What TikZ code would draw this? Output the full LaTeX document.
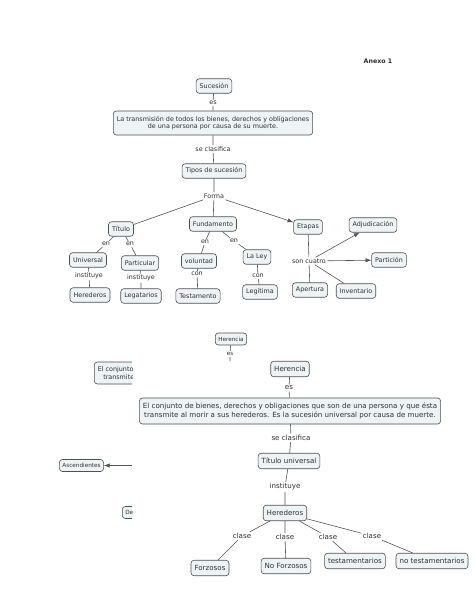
\documentclass[tikz,border=0pt]{standalone}
\usepackage{fontspec}
\setmainfont{DejaVu Sans}
\usetikzlibrary{arrows.meta}
\definecolor{boxfill}{HTML}{EEF3F6}
\definecolor{boxline}{HTML}{505050}
\definecolor{txt}{HTML}{303030}
\definecolor{wire}{HTML}{555555}

\begin{document}
\begin{tikzpicture}[x=1pt,y=-1pt,>=Latex,
  concept/.style={draw=boxline,fill=boxfill,rounded corners=3pt,line width=0.6pt,
    text=txt,font=\fontsize{6.4}{7.6}\selectfont,inner xsep=3.5pt,inner ysep=2pt,
    minimum height=14.5pt,align=center},
  bigconcept/.style={concept,font=\fontsize{7.1}{8.4}\selectfont,minimum height=15.5pt},
  tinyconcept/.style={concept,font=\fontsize{5.7}{6.8}\selectfont,minimum height=12pt,inner xsep=3pt},
  link/.style={text=txt,font=\fontsize{6.4}{7.4}\selectfont,inner sep=1.2pt},
  biglink/.style={link,font=\fontsize{7.1}{8}\selectfont},
  wire/.style={draw=wire,line width=0.6pt}]
\fill[white] (0,0) rectangle (474,613);
\useasboundingbox (0,0) rectangle (474,613);
\node[font=\bfseries\fontsize{6.3}{7}\selectfont,text=txt] (anexo) at (378,61) {Anexo 1};
% sucesion
\node[concept] (sucesion) at (214,86) {Sucesión};
\node[link] (es1) at (213,103) {es};
\node[concept,minimum height=24pt] (transm) at (213,123)
  {La transmisión de todos los bienes, derechos y obligaciones\\de una persona por causa de su muerte.};
\node[link] (clas1) at (213,149) {se clasifica};
\node[concept] (tipos) at (214,171) {Tipos de sucesión};
\node[link] (forma) at (214,196) {Forma};
\draw[wire] (sucesion) -- (es1) -- (transm) -- (clas1) -- (tipos) -- (forma);
% ramas
\node[concept] (titulo) at (121,229) {Título};
\node[concept] (fundamento) at (213,224) {Fundamento};
\node[concept] (etapas) at (308,227) {Etapas};
\draw[wire] (forma) -- (titulo);
\draw[wire] (forma) -- (fundamento);
\draw[wire,->] (forma) -- (etapas);
% titulo
\node[link] (en1) at (106,244) {en};
\node[link] (en2) at (130,244) {en};
\node[concept] (universal) at (88,260) {Universal};
\node[concept] (particular) at (140,263) {Particular};
\node[link] (inst1) at (89,276) {instituye};
\node[link] (inst2) at (141,278) {instituye};
\node[concept] (hered1) at (90,295) {Herederos};
\node[concept] (legat) at (141,296) {Legatarios};
\draw[wire] (titulo) -- (en1) -- (universal) -- (inst1) -- (hered1);
\draw[wire] (titulo) -- (en2) -- (particular) -- (inst2) -- (legat);
% fundamento
\node[link] (en3) at (205,242) {en};
\node[link] (en4) at (234,241) {en};
\node[concept] (voluntad) at (199,261) {voluntad};
\node[concept] (ley) at (257,257) {La Ley};
\node[link] (con1) at (197,274) {con};
\node[link] (con2) at (258,276) {con};
\node[concept] (testam) at (198,296) {Testamento};
\node[concept] (legitima) at (260,292) {Legítima};
\draw[wire] (fundamento) -- (en3) -- (voluntad) -- (con1) -- (testam);
\draw[wire] (fundamento) -- (en4) -- (ley) -- (con2) -- (legitima);
% etapas
\node[link] (cuatro) at (309,261) {son cuatro};
\node[concept] (adjud) at (373,225) {Adjudicación};
\node[concept] (particion) at (389,260) {Partición};
\node[concept] (apertura) at (310,290) {Apertura};
\node[concept] (invent) at (356,291) {Inventario};
\draw[wire] (etapas) -- (cuatro);
\draw[wire,->] (cuatro) -- (adjud);
\draw[wire,->] (cuatro) -- (particion);
\draw[wire] (cuatro) -- (apertura);
\draw[wire] (cuatro) -- (invent);
% herencia (copia)
\node[tinyconcept] (herencia0) at (231,339) {Herencia};
\node[link,font=\fontsize{5.7}{6.5}\selectfont] (es0) at (230,354) {es};
\coordinate (es0end) at (230,361);
\draw[wire] (herencia0) -- (es0) -- (es0end);
\begin{scope}
\clip (0,330) rectangle (132,530);
\node[concept,anchor=west,minimum height=22pt] (conj0) at (94,373)
  {El conjunto de bienes\\transmite al morir};
\node[tinyconcept,anchor=west] (desc0) at (122,512.5) {Descendientes};
\end{scope}
\node[tinyconcept] (ascend) at (81.5,465.5) {Ascendientes};
\coordinate (asctail) at (132,465.5);
\draw[wire,->] (asctail) -- (ascend);
% herencia
\node[bigconcept] (herencia) at (290,369) {Herencia};
\node[biglink] (es2) at (289,388) {es};
\node[bigconcept,minimum height=26pt] (conj) at (290,411)
  {El conjunto de bienes, derechos y obligaciones que son de una persona y que ésta\\transmite al morir a sus herederos. Es la sucesión universal por causa de muerte.};
\node[biglink] (clas2) at (291,438) {se clasifica};
\node[bigconcept] (tunivers) at (289,461) {Título universal};
\node[biglink] (inst3) at (285,487) {instituye};
\node[bigconcept] (hered2) at (285,513) {Herederos};
\draw[wire] (herencia) -- (es2) -- (conj) -- (clas2) -- (tunivers) -- (inst3) -- (hered2);
\node[biglink] (clase1) at (242,536) {clase};
\node[biglink] (clase2) at (285,537) {clase};
\node[biglink] (clase3) at (328,537) {clase};
\node[biglink] (clase4) at (372,536) {clase};
\node[bigconcept] (forzosos) at (210,568) {Forzosos};
\node[bigconcept] (noforz) at (286,566) {No Forzosos};
\node[bigconcept] (testament) at (355,561) {testamentarios};
\node[bigconcept] (notestam) at (432,561) {no testamentarios};
\draw[wire] (hered2) -- (clase1) -- (forzosos);
\draw[wire] (hered2) -- (clase2) -- (noforz);
\draw[wire] (hered2) -- (clase3) -- (testament);
\draw[wire] (hered2) -- (clase4) -- (notestam);
\end{tikzpicture}
\end{document}
